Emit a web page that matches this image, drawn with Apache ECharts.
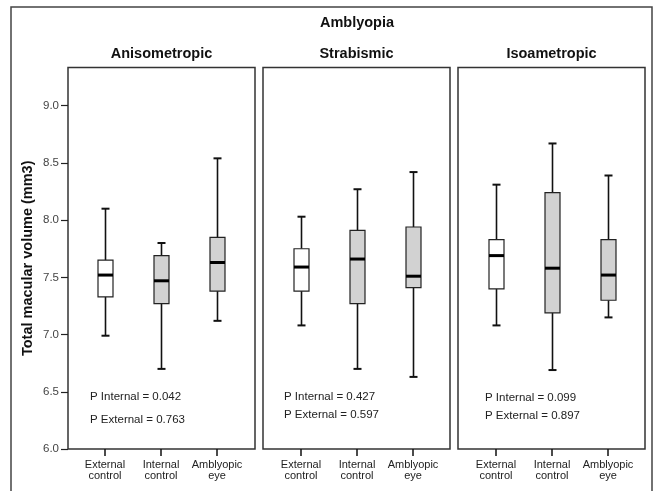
<!DOCTYPE html>
<html>
<head>
<meta charset="utf-8">
<title>Total macular volume - Amblyopia</title>
<script src="https://cdn.jsdelivr.net/npm/echarts@6.0.0/dist/echarts.min.js"></script>
<style>
html, body {margin: 0; padding: 0; background: #fff;}
#main {width: 657px; height: 491px;}
</style>
</head>
<body>
<div id="main"></div>
<script>
var categories = ['External\ncontrol', 'Internal\ncontrol', 'Amblyopic\neye'];
var panelNames = ['Anisometropic', 'Strabismic', 'Isoametropic'];
// each row: [min, q1, median, q3, max]
var anisometropic = [[6.99, 7.33, 7.52, 7.65, 8.10], [6.70, 7.27, 7.47, 7.69, 7.80], [7.12, 7.38, 7.63, 7.85, 8.54]];
var strabismic = [[7.08, 7.38, 7.59, 7.75, 8.03], [6.70, 7.27, 7.66, 7.91, 8.27], [6.63, 7.41, 7.51, 7.94, 8.42]];
var isoametropic = [[7.08, 7.40, 7.69, 7.83, 8.31], [6.69, 7.19, 7.58, 8.24, 8.67], [7.15, 7.30, 7.52, 7.83, 8.39]];
var pInternal = ['0.042', '0.427', '0.099'];
var pExternal = ['0.763', '0.597', '0.897'];
var yMin = 6.0, yMax = 9.0, yStep = 0.5;

var panelData = [anisometropic, strabismic, isoametropic];
var boxFill = ['#ffffff', '#d2d2d2', '#d2d2d2'];
var font = 'Liberation Sans, Arial, sans-serif';

// layout in px
var frameLeft = [68, 263, 458];
var frameWidth = 187;
var plotLeft = [77, 273, 468];
var plotWidth = 168;
var frameTop = 67.5;
var plotTop = 105.7;
var plotBottom = 42;
var pTextPos = [[90, 397, 90, 420], [284, 397, 284, 415], [485, 398, 485, 416]];

var chart = echarts.init(document.getElementById('main'));

function renderBox(params, api) {
    var i = api.value(0);
    var low = api.coord([i, api.value(1)]);
    var q1 = api.coord([i, api.value(2)]);
    var med = api.coord([i, api.value(3)]);
    var q3 = api.coord([i, api.value(4)]);
    var high = api.coord([i, api.value(5)]);
    var x = Math.round(low[0]) + 0.5;
    var half = 7.5, cap = 4;
    var whisker = {stroke: '#111', lineWidth: 1.6};
    var capStyle = {stroke: '#111', lineWidth: 2};
    return {
        type: 'group',
        children: [
            {type: 'line', shape: {x1: x, y1: low[1], x2: x, y2: q1[1]}, style: whisker},
            {type: 'line', shape: {x1: x, y1: q3[1], x2: x, y2: high[1]}, style: whisker},
            {type: 'line', shape: {x1: x - cap, y1: low[1], x2: x + cap, y2: low[1]}, style: capStyle},
            {type: 'line', shape: {x1: x - cap, y1: high[1], x2: x + cap, y2: high[1]}, style: capStyle},
            {type: 'rect', shape: {x: x - half, y: q3[1], width: half * 2, height: q1[1] - q3[1]},
                style: {fill: boxFill[i], stroke: '#222', lineWidth: 1.2}},
            {type: 'line', shape: {x1: x - half, y1: med[1], x2: x + half, y2: med[1]},
                style: {stroke: '#000', lineWidth: 3}}
        ]
    };
}

var grids = [], xAxes = [], yAxes = [], series = [];
var graphics = [
    {type: 'rect', shape: {x: 11, y: 7, width: 641, height: 492}, style: {fill: 'none', stroke: '#444', lineWidth: 1.5}, silent: true},
    {type: 'text', x: 357, y: 23, style: {text: 'Amblyopia', font: 'bold 14.5px ' + font, fill: '#111', textAlign: 'center', textVerticalAlign: 'middle'}}
];

// frames 0..2
for (var p = 0; p < 3; p++) {
    grids.push({left: frameLeft[p], width: frameWidth, top: frameTop, bottom: plotBottom,
        show: true, borderColor: '#333', borderWidth: 1.5, backgroundColor: 'transparent', outerBoundsMode: 'none'});
    xAxes.push({gridIndex: p, type: 'category', data: categories, show: false});
    if (p == 0) {
        yAxes.push({gridIndex: 0, type: 'value', min: 0, max: 1,
            axisLine: {show: false}, axisTick: {show: false}, axisLabel: {show: false}, splitLine: {show: false},
            name: 'Total macular volume (mm3)', nameLocation: 'middle', nameGap: 33,
            nameTextStyle: {fontSize: 14.5, fontWeight: 'bold', color: '#111', fontFamily: font}});
    } else {
        yAxes.push({gridIndex: p, type: 'value', min: 0, max: 1, show: false});
    }
    graphics.push({type: 'text', x: frameLeft[p] + frameWidth / 2, y: 54,
        style: {text: panelNames[p], font: 'bold 14.5px ' + font, fill: '#111', textAlign: 'center', textVerticalAlign: 'middle'}});
    graphics.push({type: 'text', x: pTextPos[p][0], y: pTextPos[p][1],
        style: {text: 'P Internal = ' + pInternal[p], font: '11.5px ' + font, fill: '#222', textVerticalAlign: 'middle'}});
    graphics.push({type: 'text', x: pTextPos[p][2], y: pTextPos[p][3],
        style: {text: 'P External = ' + pExternal[p], font: '11.5px ' + font, fill: '#222', textVerticalAlign: 'middle'}});
}

// data plots 3..5
for (var p = 0; p < 3; p++) {
    var g = p + 3;
    grids.push({left: plotLeft[p], width: plotWidth, top: plotTop, bottom: plotBottom, outerBoundsMode: 'none'});
    xAxes.push({
        gridIndex: g, type: 'category', data: categories,
        axisLine: {show: false},
        axisTick: {show: true, alignWithLabel: true, length: 7, lineStyle: {color: '#111', width: 1.5}},
        axisLabel: {interval: 0, fontSize: 11, lineHeight: 11.5, color: '#222', margin: 10, fontFamily: font},
        splitLine: {show: false}
    });
    yAxes.push({
        gridIndex: g, type: 'value', min: yMin, max: yMax, interval: yStep,
        show: p == 0, offset: plotLeft[0] - frameLeft[0],
        axisLine: {show: false},
        axisTick: {show: true, length: 7, lineStyle: {color: '#222', width: 1.2}},
        axisLabel: {margin: 9, fontSize: 11.5, color: '#444', fontFamily: font,
            formatter: function (v) { return v.toFixed(1); }},
        splitLine: {show: false}
    });
    var rows = [];
    for (var i = 0; i < panelData[p].length; i++) {
        rows.push([i].concat(panelData[p][i]));
    }
    series.push({
        name: panelNames[p], type: 'custom', xAxisIndex: g, yAxisIndex: g,
        renderItem: renderBox,
        encode: {x: 0, y: [1, 2, 3, 4, 5]},
        data: rows
    });
}

chart.setOption({
    backgroundColor: '#fff',
    animation: false,
    grid: grids,
    xAxis: xAxes,
    yAxis: yAxes,
    series: series,
    graphic: graphics
});
</script>
</body>
</html>
